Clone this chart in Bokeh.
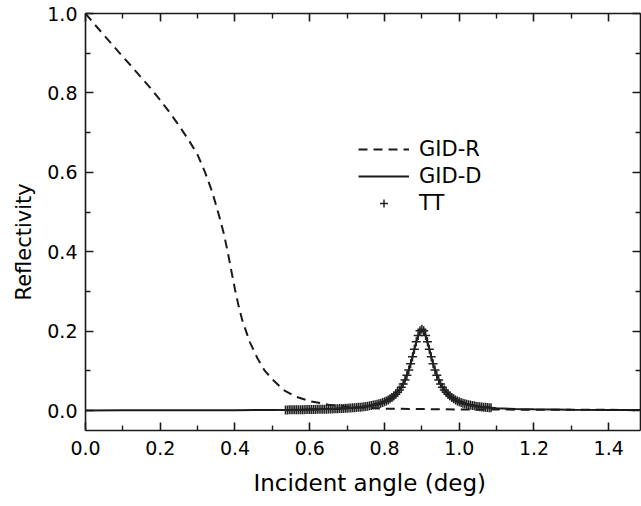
from bokeh.plotting import figure
from bokeh.models import (LinearAxis, Range1d, Legend, LegendItem, FixedTicker, Title)
from bokeh.embed import file_html
from bokeh.resources import INLINE

# ---------------- data ----------------
gid_r_x = [0.0, 0.025, 0.05, 0.075, 0.1, 0.125, 0.15, 0.175, 0.2, 0.225, 0.25,
           0.275, 0.3, 0.32, 0.34, 0.36, 0.37, 0.38, 0.39, 0.40, 0.41, 0.42,
           0.44, 0.46, 0.48, 0.50, 0.53, 0.56, 0.60, 0.65, 0.70, 0.75, 0.80,
           0.90, 1.00, 1.10, 1.20, 1.30, 1.40, 1.50]
gid_r_y = [1.000, 0.972, 0.945, 0.918, 0.891, 0.865, 0.838, 0.811, 0.782, 0.751, 0.718,
           0.683, 0.644, 0.600, 0.548, 0.482, 0.446, 0.402, 0.353, 0.305, 0.262, 0.226,
           0.172, 0.132, 0.100, 0.079, 0.052, 0.036, 0.024, 0.015, 0.010, 0.007, 0.005,
           0.004, 0.003, 0.003, 0.002, 0.002, 0.002, 0.001]

gid_d_x = [0.0, 0.1, 0.2, 0.3, 0.4, 0.5, 0.55, 0.6, 0.65, 0.7, 0.75, 0.78, 0.8,
           0.82, 0.84, 0.85, 0.86, 0.87, 0.88, 0.89, 0.9, 0.91, 0.92, 0.93, 0.94,
           0.95, 0.96, 0.98, 1.0, 1.02, 1.05, 1.1, 1.15, 1.2, 1.3, 1.4, 1.5]
gid_d_y = [0.0005, 0.0007, 0.0009, 0.0011, 0.0013, 0.0016, 0.0020, 0.0027, 0.0039,
           0.0061, 0.0106, 0.0161, 0.0224, 0.0329, 0.0520, 0.0674, 0.0889, 0.1182,
           0.1545, 0.1895, 0.2050, 0.1895, 0.1545, 0.1182, 0.0889, 0.0674, 0.0520,
           0.0329, 0.0224, 0.0161, 0.0106, 0.0061, 0.0043, 0.0032, 0.0022, 0.0017,
           0.0013]

tt_x = [0.535, 0.540, 0.545, 0.550, 0.555, 0.560, 0.565, 0.570, 0.575, 0.580,
        0.585, 0.590, 0.595, 0.600, 0.605, 0.610, 0.615, 0.620, 0.625, 0.630,
        0.635, 0.640, 0.645, 0.650, 0.655, 0.660, 0.665, 0.670, 0.675, 0.680,
        0.685, 0.690, 0.695, 0.700, 0.705, 0.710, 0.715, 0.720, 0.725, 0.730,
        0.735, 0.740, 0.745, 0.750, 0.755, 0.760, 0.765, 0.770, 0.775, 0.780,
        0.785, 0.790, 0.795, 0.800, 0.805, 0.810, 0.815, 0.820, 0.825, 0.830,
        0.835, 0.840, 0.845, 0.850, 0.855, 0.860, 0.865, 0.870, 0.875, 0.880,
        0.885, 0.890, 0.895, 0.900, 0.905, 0.910, 0.915, 0.920, 0.925, 0.930,
        0.935, 0.940, 0.945, 0.950, 0.955, 0.960, 0.965, 0.970, 0.975, 0.980,
        0.985, 0.990, 0.995, 1.000, 1.005, 1.010, 1.015, 1.020, 1.025, 1.030,
        1.035, 1.040, 1.045, 1.050, 1.055, 1.060, 1.065, 1.070, 1.075, 1.080,
        1.085]
tt_y = [0.0019, 0.0019, 0.0020, 0.0020, 0.0021, 0.0021, 0.0022, 0.0023, 0.0023, 0.0024,
        0.0025, 0.0026, 0.0026, 0.0027, 0.0028, 0.0029, 0.0031, 0.0032, 0.0033, 0.0034,
        0.0035, 0.0036, 0.0038, 0.0039, 0.0041, 0.0043, 0.0045, 0.0046, 0.0048, 0.0051,
        0.0053, 0.0055, 0.0058, 0.0061, 0.0064, 0.0067, 0.0071, 0.0075, 0.0079, 0.0083,
        0.0088, 0.0094, 0.0099, 0.0106, 0.0113, 0.0121, 0.0129, 0.0139, 0.0149, 0.0161,
        0.0174, 0.0188, 0.0205, 0.0224, 0.0245, 0.0269, 0.0297, 0.0329, 0.0367, 0.0410,
        0.0461, 0.0520, 0.0591, 0.0674, 0.0773, 0.0889, 0.1025, 0.1182, 0.1357, 0.1545,
        0.1732, 0.1895, 0.2009, 0.2050, 0.2009, 0.1895, 0.1732, 0.1545, 0.1357, 0.1182,
        0.1025, 0.0889, 0.0773, 0.0674, 0.0591, 0.0520, 0.0461, 0.0410, 0.0367, 0.0329,
        0.0297, 0.0269, 0.0245, 0.0224, 0.0205, 0.0188, 0.0174, 0.0161, 0.0149, 0.0139,
        0.0129, 0.0121, 0.0113, 0.0106, 0.0099, 0.0094, 0.0088, 0.0083, 0.0079, 0.0075,
        0.0071]

x_major = [0.0, 0.2, 0.4, 0.6, 0.8, 1.0, 1.2, 1.4]
x_labels = ["0.0", "0.2", "0.4", "0.6", "0.8", "1.0", "1.2", "1.4"]
x_minor = [0.1, 0.3, 0.5, 0.7, 0.9, 1.1, 1.3]
y_major = [0.0, 0.2, 0.4, 0.6, 0.8, 1.0]
y_labels = ["0.0", "0.2", "0.4", "0.6", "0.8", "1.0"]
y_minor = [0.1, 0.3, 0.5, 0.7, 0.9]

x_title = "Incident angle (deg)"
y_title = "Reflectivity"

FONT = "DejaVu Sans"
INK = "#1a1a1a"

p = figure(width=641, height=506,
           x_range=Range1d(0.0, 1.485), y_range=Range1d(-0.05, 1.0),
           output_backend="svg", toolbar_location=None,
           x_axis_location=None, y_axis_location=None,
           min_border_left=85, min_border_right=1,
           min_border_top=13, min_border_bottom=76)
p.grid.visible = False
p.outline_line_color = None
p.background_fill_color = "white"
p.border_fill_color = "white"


def style_axis(ax, ticks, minor, labels, show_labels):
    ax.ticker = FixedTicker(ticks=ticks, minor_ticks=minor)
    ax.axis_line_color = INK
    ax.axis_line_width = 1.6
    ax.major_tick_line_color = INK
    ax.major_tick_line_width = 1.6
    ax.minor_tick_line_color = INK
    ax.minor_tick_line_width = 1.4
    ax.major_tick_in = 8
    ax.major_tick_out = 0
    ax.minor_tick_in = 5
    ax.minor_tick_out = 0
    if show_labels:
        ax.major_label_overrides = {t: l for t, l in zip(ticks, labels)}
        ax.major_label_text_font = FONT
        ax.major_label_text_font_size = "19px"
        ax.major_label_text_color = "black"
    else:
        ax.major_label_text_font_size = "0px"
        ax.major_label_standoff = 0
        ax.major_label_text_alpha = 0


xb = LinearAxis()
style_axis(xb, x_major, x_minor, x_labels, True)
xb.major_label_standoff = 10
p.add_layout(xb, "below")

yl = LinearAxis()
style_axis(yl, y_major, y_minor, y_labels, True)
yl.major_label_standoff = 8
p.add_layout(yl, "left")

xt = LinearAxis()
style_axis(xt, x_major, x_minor, x_labels, False)
p.add_layout(xt, "above")

yr = LinearAxis()
style_axis(yr, y_major, y_minor, y_labels, False)
p.add_layout(yr, "right")

# axis titles as side-panel titles so they can sit a little off the frame centre
p.add_layout(Title(text=x_title, align="left", offset=168, standoff=20,
                   text_font=FONT, text_font_size="23px",
                   text_font_style="normal", text_color="black"), "below")
p.add_layout(Title(text=y_title, align="left", offset=130, standoff=17,
                   text_font=FONT, text_font_size="21px",
                   text_font_style="normal", text_color="black"), "left")

r_gid_r = p.line(gid_r_x, gid_r_y, line_color=INK, line_width=2.0, line_dash="9 6")
r_gid_d = p.line(gid_d_x, gid_d_y, line_color=INK, line_width=2.0)
r_tt = p.scatter(tt_x, tt_y, marker="cross", size=9, line_color="#222222",
                 line_width=1.5)

legend = Legend(items=[LegendItem(label="GID-R", renderers=[r_gid_r]),
                       LegendItem(label="GID-D", renderers=[r_gid_d]),
                       LegendItem(label="TT", renderers=[r_tt])],
                location=(273, 215))
legend.background_fill_alpha = 0
legend.border_line_color = None
legend.glyph_width = 51
legend.glyph_height = 20
legend.label_height = 20
legend.spacing = 3
legend.padding = 0
legend.margin = 0
legend.label_standoff = 10
legend.label_text_font = FONT
legend.label_text_font_size = "21px"
legend.label_text_color = "black"
p.add_layout(legend)

open("out.html", "w").write(file_html(p, INLINE))
